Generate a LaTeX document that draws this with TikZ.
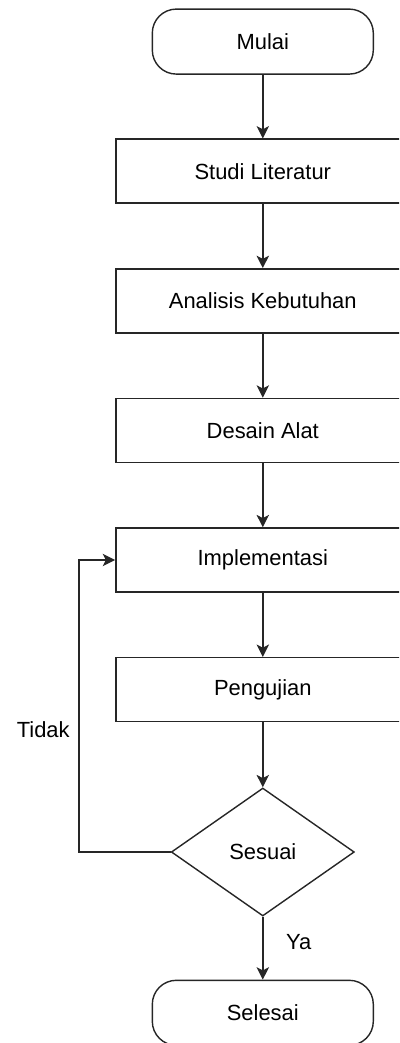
\documentclass[tikz,border=0pt]{standalone}
\usepackage{fontspec}
\setmainfont{Liberation Sans}
\usetikzlibrary{arrows.meta, shapes.geometric, positioning}
\tikzset{%
>={Stealth[length=3.1mm,width=3.1mm,inset=0.8mm]},
  % Specifications for style of nodes:
            terminal/.style = {rectangle, rounded corners=0.6cm, draw=black!85,
                            line width=1pt, minimum width=5.525cm,
                            minimum height=1.625cm, font=\fontsize{15.6}{18}\selectfont},
            process/.style = {rectangle, draw=black!85, line width=1pt,
                            minimum width=7.35cm, minimum height=1.6cm,
                            font=\fontsize{15.6}{18}\selectfont},
            decision/.style = {diamond, draw=black!85, line width=1pt, inner sep=0pt,
                            aspect=1.43, minimum width=4.575cm, minimum height=3.2cm,
                            font=\fontsize{15.6}{18}\selectfont},
            flow/.style = {->, draw=black!85, line width=1pt},
            label/.style = {font=\fontsize{15.6}{18}\selectfont, text=black}
}
\begin{document}
\begin{tikzpicture}[node distance=3.24cm]
                \useasboundingbox (0,0) rectangle (9.975,-26.075);
                \clip (0,0) rectangle (9.975,-26.075);

                \node[terminal] (mulai) at (6.57,-1.04) {Mulai};
                \node[process, below of=mulai] (studi) {Studi Literatur};
                \node[process, below of=studi] (analisis) {Analisis Kebutuhan};
                \node[process, below of=analisis] (desain) {Desain Alat};
                \node[process, below of=desain] (impl) {Implementasi};
                \node[process, below of=impl] (uji) {Pengujian};
                \node[decision, below of=uji, node distance=4.06cm] (sesuai) {Sesuai};
                \node[terminal, below of=sesuai, node distance=4.02cm] (selesai) {Selesai};
                \coordinate (back) at (1.975,0);

                \draw[flow] (mulai) -- (studi);
                \draw[flow] (studi) -- (analisis);
                \draw[flow] (analisis) -- (desain);
                \draw[flow] (desain) -- (impl);
                \draw[flow] (impl) -- (uji);
                \draw[flow] (uji) -- (sesuai);
                \draw[flow] (sesuai) -- (selesai)
                    node [label, midway, right, xshift=0.45cm, yshift=0.15cm] {Ya};
                \draw[flow] (sesuai.west) -- (sesuai.west -| back) |- (impl.west)
                    node [label, pos=0.21, left, xshift=-0.1cm] {Tidak};

            \end{tikzpicture}
\end{document}
